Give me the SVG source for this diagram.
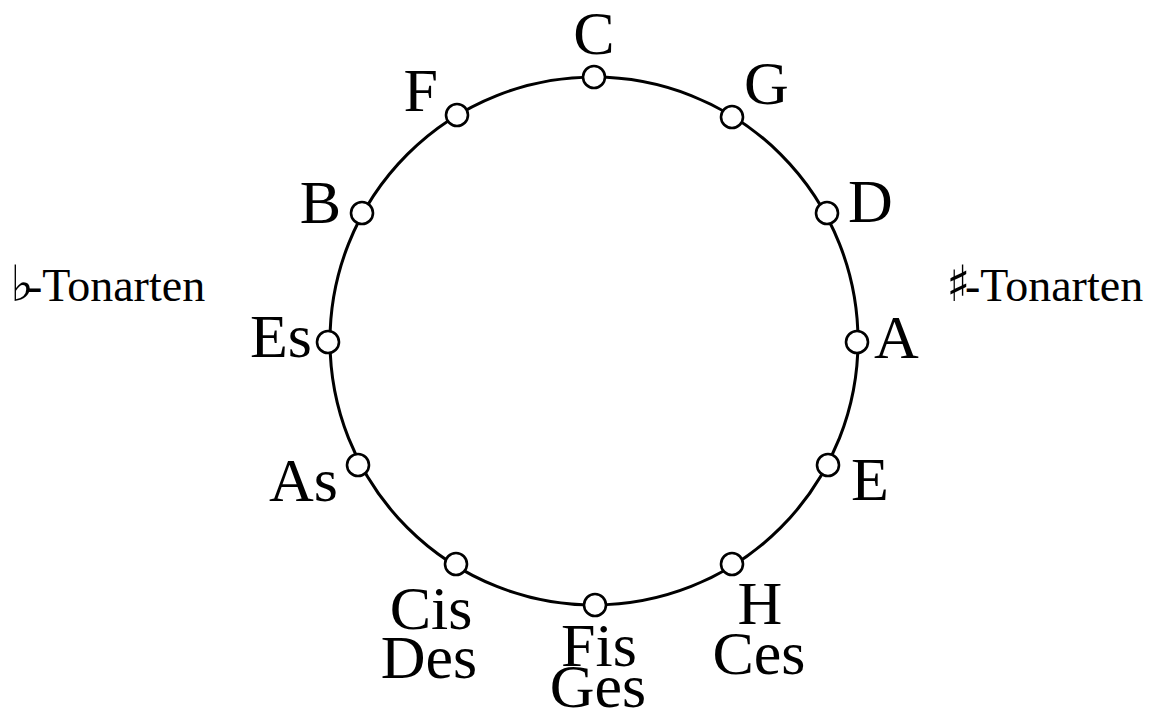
<svg xmlns="http://www.w3.org/2000/svg" width="1157" height="720" viewBox="0 0 1157 720">
<style>
.ring{fill:none;stroke:#000;stroke-width:3}
.n{fill:#fff;stroke:#000;stroke-width:2.6}
.t{font-family:"Liberation Serif","Times New Roman",serif;font-size:62px;fill:#000}
.m{text-anchor:middle}
.e{text-anchor:end}
.sym{font-family:"DejaVu Serif","DejaVu Sans",serif;font-size:50px;fill:#000}
</style>
<rect width="1157" height="720" fill="#fff"/>
<g id="connectors">
<circle class="ring" cx="594" cy="341" r="264"/>
</g>
<g id="node-C"><circle class="n" cx="594" cy="77" r="11"/><text class="t m" x="594" y="54">C</text></g>
<g id="node-G"><circle class="n" cx="732" cy="117" r="11"/><text class="t" x="744" y="104">G</text></g>
<g id="node-D"><circle class="n" cx="827" cy="213" r="11"/><text class="t" x="848" y="222">D</text></g>
<g id="node-A"><circle class="n" cx="857" cy="342" r="11"/><text class="t" x="874" y="358">A</text></g>
<g id="node-E"><circle class="n" cx="828" cy="465" r="11"/><text class="t" x="851" y="500">E</text></g>
<g id="node-H"><circle class="n" cx="732" cy="564" r="11"/><text class="t m" x="760" y="624">H</text><text class="t m" x="759" y="674">Ces</text></g>
<g id="node-Fis"><circle class="n" cx="595" cy="605" r="11"/><text class="t m" x="599" y="666">Fis</text><text class="t m" x="598" y="707">Ges</text></g>
<g id="node-Cis"><circle class="n" cx="456" cy="564" r="11"/><text class="t m" x="431" y="629">Cis</text><text class="t m" x="429" y="678">Des</text></g>
<g id="node-As"><circle class="n" cx="358" cy="465" r="11"/><text class="t e" x="338" y="501">As</text></g>
<g id="node-Es"><circle class="n" cx="328" cy="342" r="11"/><text class="t e" x="312" y="357">Es</text></g>
<g id="node-B"><circle class="n" cx="362" cy="213" r="11"/><text class="t e" x="341" y="223">B</text></g>
<g id="node-F"><circle class="n" cx="457" cy="115" r="11"/><text class="t e" x="438" y="111">F</text></g>
<g id="label-flat"><text x="10" y="301" font-family="'Liberation Serif', serif" font-size="46"><tspan class="sym">♭</tspan><tspan x="27" font-family="'Liberation Serif', serif" font-size="46">-Tonarten</tspan></text></g>
<g id="label-sharp"><text x="946" y="301" font-family="'Liberation Serif', serif" font-size="46"><tspan class="sym">♯</tspan><tspan x="965" font-family="'Liberation Serif', serif" font-size="46">-Tonarten</tspan></text></g>
</svg>
